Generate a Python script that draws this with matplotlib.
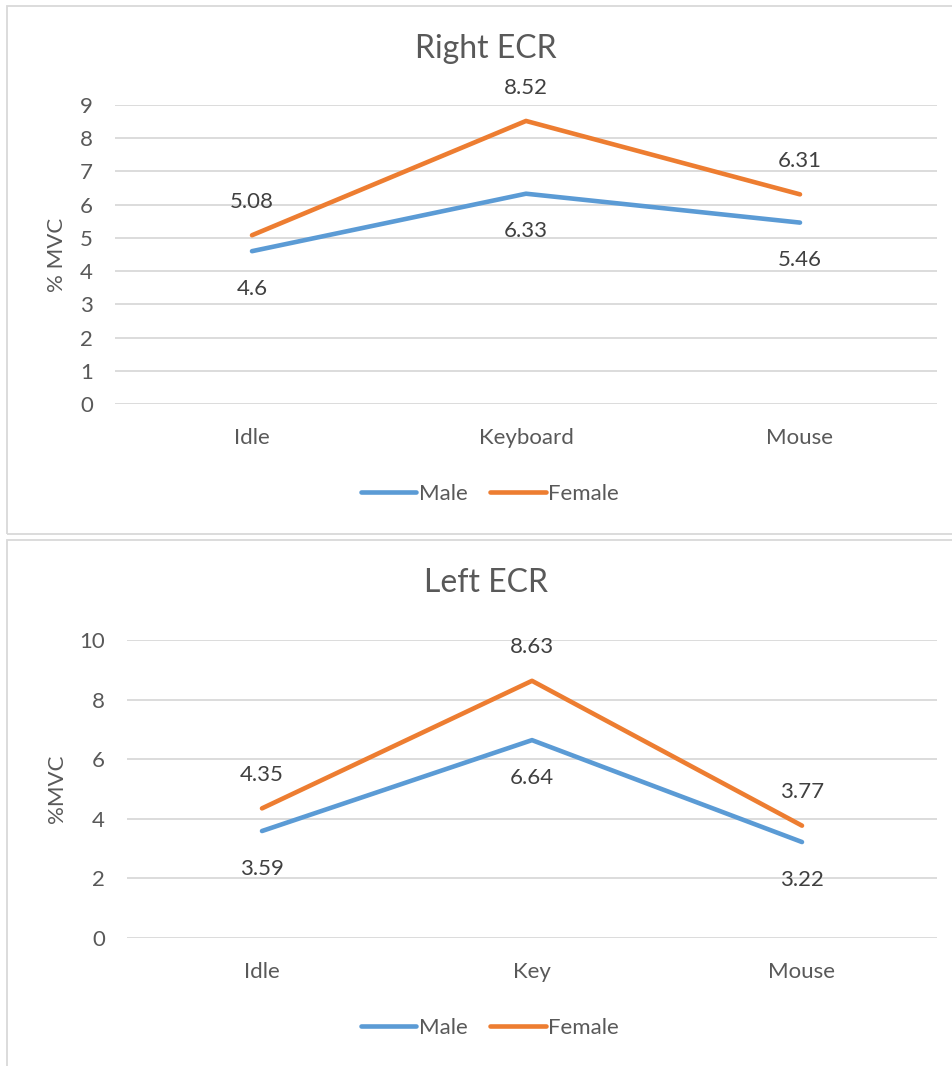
import matplotlib.pyplot as plt
from matplotlib.patches import Rectangle

plt.rcParams['font.family'] = ['Lato', 'DejaVu Sans']

# data
right_cats = ['Idle', 'Keyboard', 'Mouse']
right_male = [4.6, 6.33, 5.46]
right_female = [5.08, 8.52, 6.31]

left_cats = ['Idle', 'Key', 'Mouse']
left_male = [3.59, 6.64, 3.22]
left_female = [4.35, 8.63, 3.77]

series_names = ['Male', 'Female']
colors = ['#5B9BD5', '#ED7D31']
grey = '#595959'
label_color = '#404040'
grid_color = '#D9D9D9'

W, H = 953, 1066
fig = plt.figure(figsize=(W / 100, H / 100), dpi=100)


def fx(px):
    return px / W


def fy(py):
    return 1 - py / H


# chart borders
for top, bottom in [(6, 534), (540, 1070)]:
    fig.patches.append(Rectangle((fx(7), fy(bottom)), fx(960) - fx(7), fy(top) - fy(bottom),
                                 transform=fig.transFigure, fill=False,
                                 edgecolor=grid_color, linewidth=1.3))


def draw(ax_rect, cats, male, female, ymax, ystep, title, title_y, ylabel, legend_y):
    ax = fig.add_axes(ax_rect)
    x = list(range(len(cats)))
    ax.plot(x, male, color=colors[0], lw=3.3, solid_capstyle='round', label=series_names[0], zorder=3)
    ax.plot(x, female, color=colors[1], lw=3.3, solid_capstyle='round', label=series_names[1], zorder=3)
    for xi, v in zip(x, male):
        ax.annotate(f'{v:g}', (xi, v), xytext=(0, -27), textcoords='offset points',
                    ha='center', va='center', fontsize=16, color=label_color)
    for xi, v in zip(x, female):
        ax.annotate(f'{v:g}', (xi, v), xytext=(0, 24), textcoords='offset points',
                    ha='center', va='center', fontsize=16, color=label_color)
    ax.set_xlim(-0.5, len(cats) - 0.5)
    ax.set_ylim(0, ymax)
    ax.set_yticks(range(0, ymax + 1, ystep))
    ax.set_xticks(x)
    ax.set_xticklabels(cats)
    ax.grid(axis='y', color=grid_color, lw=1.3)
    ax.set_axisbelow(True)
    for s in ax.spines.values():
        s.set_visible(False)
    ax.tick_params(axis='both', length=0, labelsize=16, labelcolor=grey)
    ax.tick_params(axis='x', pad=17)
    ax.tick_params(axis='y', pad=16)
    ax.set_ylabel(ylabel, fontsize=16, color=grey)
    ax.yaxis.label.set_va('center')
    ax.yaxis.set_label_coords((57 - ax_rect[0] * W) / (ax_rect[2] * W), 0.5)
    fig.text(fx(486), fy(title_y), title, ha='center', va='center', fontsize=23, color=grey)
    fig.legend(handles=ax.get_lines(), loc='center', bbox_to_anchor=(fx(490), fy(legend_y)),
               ncol=2, frameon=False, fontsize=16, labelcolor=grey,
               handlelength=2.5, handletextpad=0.12, columnspacing=1.0)
    return ax


draw([fx(115), fy(404), fx(937) - fx(115), fy(105) - fy(404)],
     right_cats, right_male, right_female, 9, 1, 'Right ECR', 49, '% MVC', 494)
draw([fx(127), fy(938), fx(937) - fx(127), fy(640) - fy(938)],
     left_cats, left_male, left_female, 10, 2, 'Left ECR', 583, '%MVC', 1028)

fig.savefig('out.png', dpi=100)
